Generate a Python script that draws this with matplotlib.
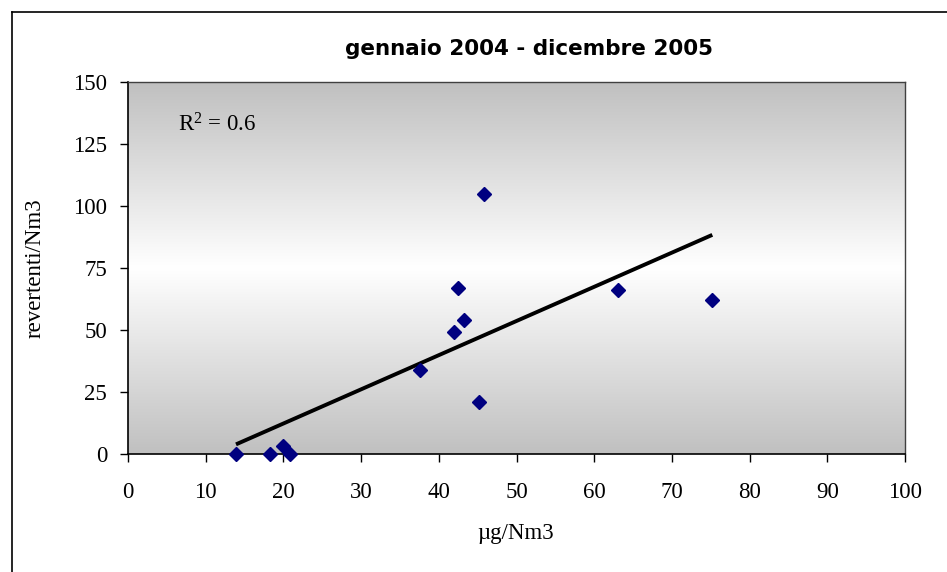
import numpy as np
import matplotlib.pyplot as plt
from matplotlib.colors import LinearSegmentedColormap
from matplotlib.lines import Line2D

# concentrazione (µg/Nm3) e revertenti/Nm3, gennaio 2004 - dicembre 2005
conc = [13.9, 18.3, 19.9, 20.8, 37.6, 42.0, 42.5, 43.2, 45.2, 45.8, 63.1, 75.2]
revertenti = [0, 0, 3.2, 0, 33.9, 49.2, 66.9, 54.0, 21.0, 104.8, 66.0, 62.0]

x_ticks = [0, 10, 20, 30, 40, 50, 60, 70, 80, 90, 100]
y_ticks = [0, 25, 50, 75, 100, 125, 150]

TITLE = "gennaio 2004 - dicembre 2005"
X_LABEL = "µg/Nm3"
Y_LABEL = "revertenti/Nm3"

SERIF = "Liberation Serif"
FS = 16.5


def linear_fit(xs, ys):
    xs, ys = np.asarray(xs, float), np.asarray(ys, float)
    slope, intercept = np.polyfit(xs, ys, 1)
    pred = slope * xs + intercept
    r2 = 1 - ((ys - pred) ** 2).sum() / ((ys - ys.mean()) ** 2).sum()
    return slope, intercept, r2


def draw_background(ax):
    # grigio ai bordi, bianco al centro
    cmap = LinearSegmentedColormap.from_list("bg", ["#c0c0c0", "#ffffff", "#c0c0c0"])
    grad = np.linspace(0, 1, 256).reshape(-1, 1)
    ax.imshow(grad, cmap=cmap, aspect="auto", extent=(0, 1, 0, 1),
              transform=ax.transAxes, zorder=0, interpolation="bicubic")


def generate_figure():
    fig = plt.figure(figsize=(9.47, 5.72), dpi=100)
    ax = fig.add_axes([128 / 947, 1 - 454 / 572, 777 / 947, 372 / 572])
    draw_background(ax)

    slope, intercept, r2 = linear_fit(conc, revertenti)
    xs = np.array([min(conc), max(conc)])
    ax.plot(xs, slope * xs + intercept, color="black", lw=2.8, zorder=2,
            solid_capstyle="butt")
    ax.plot(conc, revertenti, linestyle="none", marker="D", ms=6.8,
            color="#000080", zorder=3, clip_on=False)

    ax.set_xlim(0, 100)
    ax.set_ylim(0, 150)
    ax.set_xticks(x_ticks)
    ax.set_yticks(y_ticks)
    ax.tick_params(direction="out", length=6, width=1, color="black",
                   labelsize=FS)
    ax.tick_params(axis="x", pad=14)
    ax.tick_params(axis="y", pad=9)
    for lab in ax.get_xticklabels() + ax.get_yticklabels():
        lab.set_fontfamily(SERIF)
    for side in ["left", "bottom"]:
        ax.spines[side].set_color("black")
        ax.spines[side].set_linewidth(1.2)
    for side in ["top", "right"]:
        ax.spines[side].set_color("#404040")
        ax.spines[side].set_linewidth(1.0)

    ax.text(0.064, 0.884, f"R$^2$ = {r2:.1f}", transform=ax.transAxes,
            fontsize=FS, family=SERIF, va="center", ha="left")

    fig.text(529 / 947, 1 - 49 / 572, TITLE, ha="center", va="center",
             fontsize=15.5, fontweight="bold", family="DejaVu Sans")
    fig.text(516 / 947, 1 - 533 / 572, X_LABEL, ha="center", va="center",
             fontsize=FS, family=SERIF)
    fig.text(35 / 947, 1 - 268 / 572, Y_LABEL, ha="center", va="center",
             fontsize=FS, family=SERIF, rotation=90)

    # cornice esterna del grafico
    fig.add_artist(Line2D([12 / 947, 1], [1 - 12 / 572, 1 - 12 / 572],
                          color="black", lw=1.2))
    fig.add_artist(Line2D([12 / 947, 12 / 947], [0, 1 - 12 / 572],
                          color="black", lw=1.2))

    fig.savefig("out.png", dpi=100)


if __name__ == "__main__":
    plt.rcParams["mathtext.fontset"] = "custom"
    plt.rcParams["mathtext.rm"] = SERIF
    plt.rcParams["mathtext.it"] = SERIF + ":italic"
    generate_figure()
